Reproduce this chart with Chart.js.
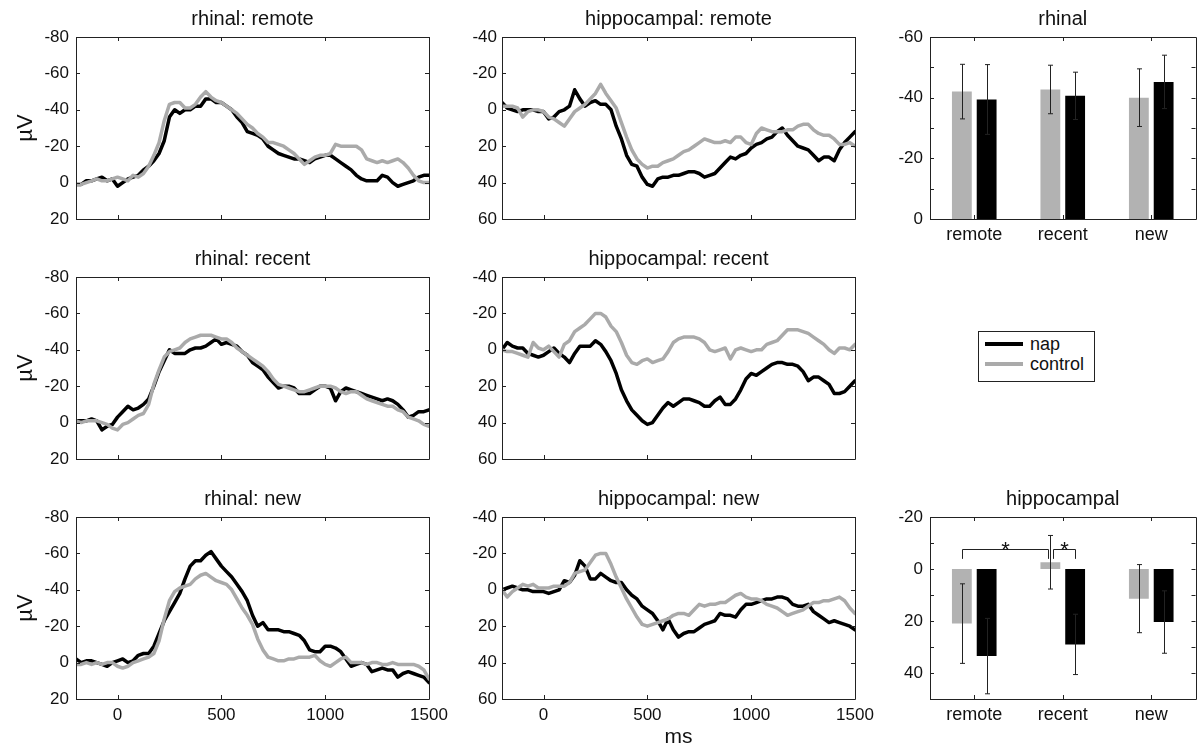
<!DOCTYPE html>
<html>
<head>
<meta charset="utf-8">
<title>rhinal / hippocampal ERPs</title>
<script src="https://cdn.jsdelivr.net/npm/chart.js@4.4.1/dist/chart.umd.min.js"></script>
<style>
body { margin: 0; background: #fff; }
#wrap { position: relative; width: 1200px; height: 750px; overflow: hidden; font-family: "Liberation Sans", Arial, sans-serif; color: #111; }
#wrap canvas { position: absolute; }
#legend { position: absolute; left: 978px; top: 331px; width: 115px; height: 49px; border: 1px solid #222; background: #fff; }
#legend .row { position: absolute; left: 6px; height: 20px; display: flex; align-items: center; font-size: 18px; }
#legend .swatch { width: 38px; height: 4px; margin-right: 7px; }
</style>
</head>
<body>
<div id="wrap">
  <canvas id="rhRemote" width="480" height="240" style="left:0;top:0"></canvas>
  <canvas id="hiRemote" width="480" height="240" style="left:440px;top:0"></canvas>
  <canvas id="rhBar" width="320" height="260" style="left:880px;top:0"></canvas>
  <canvas id="rhRecent" width="480" height="240" style="left:0;top:240px"></canvas>
  <canvas id="hiRecent" width="480" height="240" style="left:440px;top:240px"></canvas>
  <canvas id="rhNew" width="480" height="270" style="left:0;top:480px"></canvas>
  <canvas id="hiNew" width="480" height="270" style="left:440px;top:480px"></canvas>
  <canvas id="hiBar" width="320" height="270" style="left:880px;top:480px"></canvas>
  <div id="legend">
    <div class="row" style="top:2px"><div class="swatch" style="background:#000"></div>nap</div>
    <div class="row" style="top:22px"><div class="swatch" style="background:#aaaaaa"></div>control</div>
  </div>
</div>
<script>
// sample times (ms)
const times = [
  -200, -175, -150, -125, -100, -75, -50, -25,
  0, 25, 50, 75, 100, 125, 150, 175,
  200, 225, 250, 275, 300, 325, 350, 375,
  400, 425, 450, 475, 500, 525, 550, 575,
  600, 625, 650, 675, 700, 725, 750, 775,
  800, 825, 850, 875, 900, 925, 950, 975,
  1000, 1025, 1050, 1075, 1100, 1125, 1150, 1175,
  1200, 1225, 1250, 1275, 1300, 1325, 1350, 1375,
  1400, 1425, 1450, 1475, 1500
];
const xTicks = [0, 500, 1000, 1500];
const rhinalYTicks = [-80, -60, -40, -20, 0, 20];
const hippoYTicks = [-40, -20, 0, 20, 40, 60];

// ERP waveforms (µV)
const rhinalRemoteNap = [
  1, 1, -1, -1, -2, -3, -1, -2,
  2, 0, -2, -3, -4, -7, -9, -12,
  -16, -23, -36, -40, -38, -40, -40, -42,
  -42, -46, -46, -44, -44, -42, -40, -36,
  -33, -28, -27, -26, -24, -20, -18, -16,
  -15, -14, -13, -13, -12, -11, -13, -14,
  -15, -15, -13, -11, -9, -7, -4, -2,
  -1, -1, -1, -4, -3, 0, 2, 1,
  0, -1, -3, -4, -4
];
const rhinalRemoteCtl = [
  1, 1, 0, -1, -2, -1, -1, -2,
  -3, -2, -1, -4, -3, -5, -9, -15,
  -22, -34, -43, -44, -44, -41, -41, -43,
  -47, -50, -47, -45, -44, -42, -40, -38,
  -35, -32, -30, -27, -25, -22, -22, -21,
  -20, -18, -16, -13, -10, -12, -14, -15,
  -15, -16, -21, -20, -20, -20, -20, -18,
  -13, -12, -11, -12, -11, -12, -13, -11,
  -8, -4, -1, 0, 0
];
const hippoRemoteNap = [
  -4, -1, 0, 1, 0, 0, 0, 1,
  1, 5, 4, 1, 0, -2, -11, -6,
  -2, -4, -5, -3, -3, 0, 9, 16,
  25, 30, 31, 37, 41, 42, 38, 37,
  37, 36, 36, 35, 34, 34, 35, 37,
  36, 35, 32, 29, 26, 27, 25, 24,
  21, 19, 18, 16, 15, 12, 10, 14,
  17, 20, 21, 22, 25, 28, 26, 26,
  28, 22, 18, 15, 12
];
const hippoRemoteCtl = [
  -2, -2, -2, -1, 4, 1, 0, 0,
  1, 4, 5, 7, 9, 5, 1, -1,
  -3, -6, -9, -14, -9, -5, -1, 7,
  15, 22, 27, 30, 32, 31, 31, 29,
  28, 27, 25, 23, 22, 20, 18, 16,
  17, 18, 18, 17, 18, 15, 15, 18,
  19, 13, 10, 11, 12, 12, 12, 11,
  11, 9, 8, 8, 11, 13, 14, 14,
  16, 19, 19, 18, 20
];
const rhinalRecentNap = [
  -1, -1, -1, -2, -1, 4, 2, 1,
  -3, -6, -9, -7, -8, -10, -13, -20,
  -28, -34, -40, -38, -38, -38, -40, -41,
  -41, -42, -44, -46, -43, -44, -43, -42,
  -39, -37, -33, -31, -29, -25, -22, -19,
  -20, -20, -19, -16, -16, -16, -18, -20,
  -20, -19, -12, -17, -19, -18, -17, -16,
  -15, -14, -13, -12, -13, -12, -10, -7,
  -3, -4, -6, -6, -7
];
const rhinalRecentCtl = [
  -1, 0, -1, -1, -1, 0, 1, 3,
  4, 1, 0, -2, -4, -5, -10, -21,
  -29, -36, -39, -40, -41, -44, -46, -47,
  -48, -48, -48, -47, -46, -46, -44, -41,
  -39, -37, -35, -33, -31, -28, -24, -21,
  -20, -19, -18, -17, -17, -18, -19, -20,
  -20, -20, -19, -17, -16, -17, -17, -15,
  -13, -12, -11, -10, -9, -9, -7, -6,
  -3, -2, -1, 1, 2
];
const hippoRecentNap = [
  0, -4, -2, -1, -1, 2, 3, 4,
  3, 1, -1, 2, 4, 7, 2, -2,
  -2, -2, -5, -3, 1, 6, 13, 22,
  28, 33, 36, 39, 41, 40, 36, 32,
  29, 31, 29, 27, 27, 28, 29, 31,
  31, 28, 26, 30, 30, 27, 22, 16,
  13, 14, 12, 10, 8, 7, 7, 8,
  8, 9, 12, 17, 15, 15, 17, 19,
  24, 24, 23, 20, 17
];
const hippoRecentCtl = [
  0, 1, 1, 2, 3, 4, -4, -1,
  0, -2, 1, 4, -3, -5, -10, -12,
  -14, -17, -20, -20, -18, -13, -10, -4,
  3, 7, 8, 6, 5, 7, 6, 5,
  1, -4, -6, -7, -7, -7, -6, -4,
  0, 1, 0, -1, 5, 0, -1, 0,
  1, 0, 0, -3, -4, -5, -8, -11,
  -11, -11, -10, -9, -7, -5, -3, 0,
  2, -1, -1, 0, -3
];
const rhinalNewNap = [
  -2, 0, -1, -1, 0, 1, 2, 0,
  -1, -2, 0, -1, -4, -5, -5, -9,
  -16, -23, -28, -33, -38, -46, -53, -56,
  -56, -59, -61, -57, -53, -50, -47, -43,
  -39, -34, -26, -20, -22, -18, -18, -18,
  -17, -17, -16, -15, -12, -7, -6, -6,
  -9, -9, -8, -6, -2, 2, 1, 0,
  1, 5, 4, 3, 4, 4, 8, 6,
  5, 6, 7, 8, 11
];
const rhinalNewCtl = [
  1, 1, 0, 1, 0, 1, 0, 0,
  2, 3, 2, 0, -1, -2, -3, -5,
  -12, -24, -34, -39, -41, -42, -43, -46,
  -48, -49, -47, -45, -44, -43, -40, -35,
  -30, -26, -21, -13, -7, -3, -2, -1,
  -1, -2, -2, -3, -3, -3, -4, -1,
  1, 2, 0, -2, -3, 0, 0, 0,
  1, 0, 0, 1, 1, 0, 1, 1,
  1, 1, 2, 4, 9
];
const hippoNewNap = [
  0, -1, -2, -1, 0, 0, 1, 1,
  1, 2, 1, 0, -5, -4, -8, -16,
  -13, -6, -6, -9, -7, -5, -4, -4,
  0, 3, 5, 9, 11, 13, 17, 22,
  16, 22, 26, 24, 23, 23, 21, 19,
  18, 17, 13, 14, 14, 15, 11, 8,
  8, 7, 6, 5, 5, 4, 4, 5,
  8, 9, 9, 8, 12, 14, 16, 18,
  17, 18, 19, 20, 22
];
const hippoNewCtl = [
  0, 4, 1, -1, -3, -2, -3, -1,
  -1, -1, -2, -2, -2, -4, -9, -10,
  -11, -15, -19, -20, -20, -14, -7, -1,
  5, 10, 15, 19, 20, 19, 18, 17,
  16, 14, 13, 13, 14, 11, 8, 9,
  8, 8, 7, 7, 5, 3, 2, 4,
  5, 5, 6, 8, 9, 10, 12, 14,
  13, 12, 11, 9, 7, 7, 6, 6,
  5, 4, 6, 10, 13
];

// mean amplitudes (bar charts)
const conditions = ['remote', 'recent', 'new'];
const rhinalBarCtl = [-42, -42.7, -40];
const rhinalBarCtlErr = [9, 8, 9.5];
const rhinalBarNap = [-39.4, -40.6, -45.2];
const rhinalBarNapErr = [11.5, 7.8, 8.8];
const rhinalBarTicks = [-60, -50, -40, -30, -20, -10, 0];
const hippoBarCtl = [21, -2.6, 11.4];
const hippoBarCtlErr = [15.3, 10.3, 13.1];
const hippoBarNap = [33.5, 29, 20.4];
const hippoBarNapErr = [14.5, 11.6, 12];
const hippoBarTicks = [-20, -10, 0, 10, 20, 30, 40, 50];
// significance brackets: [dataset, category] pairs, bracket height and leg end
const sigPairs = [[[0, 0], [0, 1]], [[0, 1], [1, 1]]];
const sigLevel = -7.7;
const sigLegEnd = -3.9;

const NAP = '#000000';
const CTL = '#aaaaaa';
const CTL_BAR = '#b2b2b2';
const INK = '#222222';

Chart.defaults.font.family = '"Liberation Sans", Arial, sans-serif';
Chart.defaults.font.size = 17;
Chart.defaults.color = '#111';
Chart.defaults.animation = false;

// matlab style box with inward ticks on all four sides
const framePlugin = {
  id: 'frame',
  afterDraw(chart) {
    const { ctx, chartArea: a } = chart;
    const x = chart.scales.x, y = chart.scales.y;
    ctx.save();
    ctx.strokeStyle = INK;
    ctx.lineWidth = 1;
    ctx.beginPath();
    ctx.rect(Math.round(a.left) + 0.5, Math.round(a.top) + 0.5, Math.round(a.width), Math.round(a.height));
    x.ticks.forEach((t, i) => {
      const px = Math.round(x.getPixelForTick(i)) + 0.5;
      ctx.moveTo(px, a.bottom); ctx.lineTo(px, a.bottom - 4);
      ctx.moveTo(px, a.top); ctx.lineTo(px, a.top + 4);
    });
    y.ticks.forEach((t, i) => {
      const py = Math.round(y.getPixelForTick(i)) + 0.5;
      ctx.moveTo(a.left, py); ctx.lineTo(a.left + 4, py);
      ctx.moveTo(a.right, py); ctx.lineTo(a.right - 4, py);
    });
    ctx.stroke();
    ctx.restore();
  }
};

const errorBarPlugin = {
  id: 'errorBars',
  afterDatasetsDraw(chart) {
    const { ctx } = chart;
    const y = chart.scales.y;
    ctx.save();
    ctx.strokeStyle = INK;
    ctx.lineWidth = 1;
    ctx.beginPath();
    chart.data.datasets.forEach((ds, d) => {
      chart.getDatasetMeta(d).data.forEach((bar, i) => {
        const v = ds.data[i], e = ds.errors[i];
        const px = Math.round(bar.x) + 0.5;
        const y1 = y.getPixelForValue(v - e), y2 = y.getPixelForValue(v + e);
        ctx.moveTo(px, y1); ctx.lineTo(px, y2);
        ctx.moveTo(px - 2.5, y1); ctx.lineTo(px + 2.5, y1);
        ctx.moveTo(px - 2.5, y2); ctx.lineTo(px + 2.5, y2);
      });
    });
    ctx.stroke();
    ctx.restore();
  }
};

const bracketPlugin = {
  id: 'brackets',
  afterDatasetsDraw(chart) {
    const { ctx } = chart;
    const y = chart.scales.y;
    const barX = (p) => chart.getDatasetMeta(p[0]).data[p[1]].x;
    const yTop = Math.round(y.getPixelForValue(sigLevel)) + 0.5;
    const yLeg = y.getPixelForValue(sigLegEnd);
    ctx.save();
    ctx.strokeStyle = INK;
    ctx.fillStyle = '#111';
    ctx.lineWidth = 1;
    ctx.font = '22px "Liberation Sans", Arial, sans-serif';
    ctx.textAlign = 'center';
    ctx.textBaseline = 'alphabetic';
    sigPairs.forEach(([a, b], k) => {
      // keep the two brackets that meet at the same bar apart
      let x1 = barX(a), x2 = barX(b);
      if (k === 0) x2 -= 2.5; else x1 += 2.5;
      x1 = Math.round(x1) + 0.5; x2 = Math.round(x2) + 0.5;
      ctx.beginPath();
      ctx.moveTo(x1, yLeg); ctx.lineTo(x1, yTop); ctx.lineTo(x2, yTop); ctx.lineTo(x2, yLeg);
      ctx.stroke();
      ctx.fillText('*', (x1 + x2) / 2, yTop + 7);
    });
    ctx.restore();
  }
};

function titleOpts(text) {
  return {
    display: true, text: text, fullSize: false, color: '#111',
    font: { size: 20, weight: 'normal' },
    padding: { top: 7.8, bottom: 5.2 }
  };
}

function makeLine(id, title, nap, ctl, yTicks, o) {
  const pts = (vals) => times.map((t, i) => ({ x: t, y: vals[i] }));
  new Chart(document.getElementById(id), {
    type: 'line',
    data: {
      datasets: [
        { label: 'control', data: pts(ctl), borderColor: CTL },
        { label: 'nap', data: pts(nap), borderColor: NAP }
      ]
    },
    options: {
      responsive: false,
      layout: { padding: { left: 0, right: o.padR, top: 0, bottom: 0 } },
      plugins: { legend: { display: false }, tooltip: { enabled: false }, title: titleOpts(title) },
      elements: { point: { radius: 0 }, line: { borderWidth: 3.5, tension: 0, borderJoinStyle: 'round', borderCapStyle: 'round' } },
      scales: {
        x: {
          type: 'linear', min: -200, max: 1500,
          afterBuildTicks: (s) => { s.ticks = xTicks.map(v => ({ value: v })); },
          afterFit: (s) => { s.height = o.xH; },
          grid: { display: false, drawTicks: false },
          border: { display: false },
          ticks: { display: !!o.showX, padding: 6, maxRotation: 0, autoSkip: false, callback: v => String(v) },
          title: o.xTitle
            ? { display: true, text: o.xTitle, font: { size: 21 }, padding: { top: 0, bottom: 0 } }
            : { display: false }
        },
        y: {
          type: 'linear', reverse: true, min: yTicks[0], max: yTicks[yTicks.length - 1],
          afterBuildTicks: (s) => { s.ticks = yTicks.map(v => ({ value: v })); },
          afterFit: (s) => { s.width = o.yW; },
          grid: { display: false, drawTicks: false },
          border: { display: false },
          ticks: { padding: o.yPad, autoSkip: false, callback: v => String(v) },
          title: o.yTitle
            ? { display: true, text: o.yTitle, font: { size: 22 }, padding: { top: 13, bottom: 0 } }
            : { display: false }
        }
      }
    },
    plugins: [framePlugin]
  });
}

function makeBar(id, title, ctl, ctlErr, nap, napErr, yTicks, o, extra) {
  new Chart(document.getElementById(id), {
    type: 'bar',
    data: {
      labels: conditions,
      datasets: [
        { label: 'control', data: ctl, errors: ctlErr, backgroundColor: CTL_BAR },
        { label: 'nap', data: nap, errors: napErr, backgroundColor: NAP }
      ]
    },
    options: {
      responsive: false,
      layout: { padding: { left: 0, right: o.padR, top: 0, bottom: 0 } },
      plugins: { legend: { display: false }, tooltip: { enabled: false }, title: titleOpts(title) },
      datasets: { bar: { categoryPercentage: 0.56, barPercentage: 0.8, borderWidth: 0 } },
      scales: {
        x: {
          afterFit: (s) => { s.height = o.xH; },
          grid: { display: false, drawTicks: false },
          border: { display: false },
          ticks: { padding: 5, maxRotation: 0, autoSkip: false, font: { size: 18 } }
        },
        y: {
          type: 'linear', reverse: true, min: yTicks[0], max: yTicks[yTicks.length - 1],
          afterBuildTicks: (s) => { s.ticks = yTicks.map(v => ({ value: v })); },
          afterFit: (s) => { s.width = o.yW; },
          grid: { display: false, drawTicks: false },
          border: { display: false },
          ticks: { padding: 7, autoSkip: false, callback: v => (v % 20 === 0 ? String(v) : '') }
        }
      }
    },
    plugins: [framePlugin, errorBarPlugin].concat(extra || [])
  });
}

const leftCol = { yW: 76, padR: 51, yPad: 7, yTitle: 'µV' };
const midCol = { yW: 62, padR: 65, yPad: 5 };

makeLine('rhRemote', 'rhinal: remote', rhinalRemoteNap, rhinalRemoteCtl, rhinalYTicks, Object.assign({ xH: 21 }, leftCol));
makeLine('hiRemote', 'hippocampal: remote', hippoRemoteNap, hippoRemoteCtl, hippoYTicks, Object.assign({ xH: 21 }, midCol));
makeLine('rhRecent', 'rhinal: recent', rhinalRecentNap, rhinalRecentCtl, rhinalYTicks, Object.assign({ xH: 21 }, leftCol));
makeLine('hiRecent', 'hippocampal: recent', hippoRecentNap, hippoRecentCtl, hippoYTicks, Object.assign({ xH: 21 }, midCol));
makeLine('rhNew', 'rhinal: new', rhinalNewNap, rhinalNewCtl, rhinalYTicks, Object.assign({ xH: 51, showX: true }, leftCol));
makeLine('hiNew', 'hippocampal: new', hippoNewNap, hippoNewCtl, hippoYTicks, Object.assign({ xH: 51, showX: true, xTitle: 'ms' }, midCol));

makeBar('rhBar', 'rhinal', rhinalBarCtl, rhinalBarCtlErr, rhinalBarNap, rhinalBarNapErr, rhinalBarTicks, { yW: 50, padR: 4.5, xH: 41 });
makeBar('hiBar', 'hippocampal', hippoBarCtl, hippoBarCtlErr, hippoBarNap, hippoBarNapErr, hippoBarTicks, { yW: 50, padR: 4.5, xH: 51 }, [bracketPlugin]);
</script>
</body>
</html>
